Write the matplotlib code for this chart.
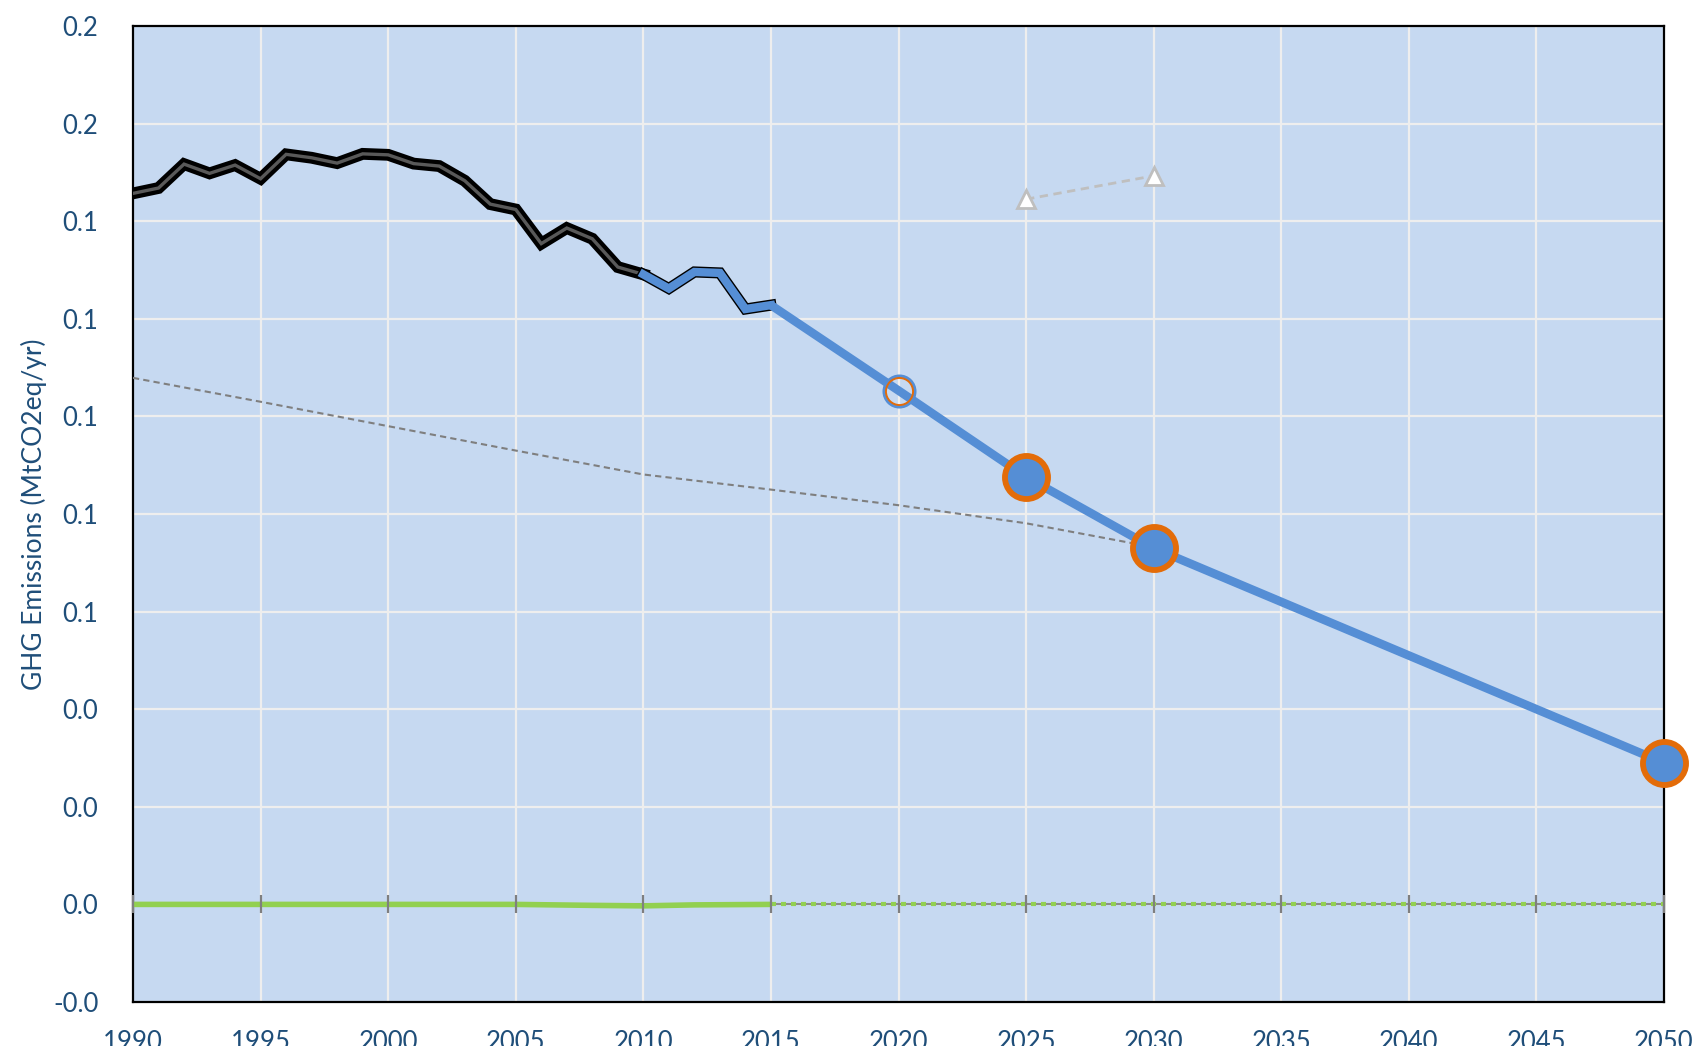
import numpy as np
import matplotlib
matplotlib.use("Agg")
import matplotlib.pyplot as plt
import matplotlib.patheffects as pe
from matplotlib.ticker import FuncFormatter

# ---- data ----
hist_years = list(range(1990, 2011))
hist_vals = [0.1457, 0.1468, 0.1517, 0.1498, 0.1515, 0.1487, 0.1537, 0.1530, 0.1519,
             0.1538, 0.1536, 0.1518, 0.1513, 0.1483, 0.1435, 0.1424, 0.1354, 0.1386,
             0.1364, 0.1306, 0.1291]
recent_years = [2010, 2011, 2012, 2013, 2014, 2015]
recent_vals = [0.1291, 0.1262, 0.1296, 0.1294, 0.1220, 0.1228]
path_years = [2015, 2020, 2025, 2030, 2050]
path_vals = [0.1228, 0.1053, 0.0876, 0.0730, 0.0290]
target_years = [2025, 2030, 2050]
target_vals = [0.0876, 0.0730, 0.0290]
open_year = [2020]
open_val = [0.1053]
ref_years = [1990, 1995, 2000, 2005, 2010, 2015, 2020, 2025, 2030]
ref_vals = [0.1079, 0.1030, 0.0980, 0.0930, 0.0881, 0.0850, 0.0818, 0.0781, 0.0732]
tri_years = [2025, 2030]
tri_vals = [0.1445, 0.1493]
sink_years = [1990, 1995, 2000, 2005, 2008, 2010, 2012, 2015]
sink_vals = [0.0, 0.0, 0.0, 0.0, -0.0002, -0.0003, -0.0001, 0.0]
sink_proj_years = [2015, 2050]
sink_proj_vals = [0.0, 0.0]
x_ticks = list(range(1990, 2051, 5))
y_ticks = [-0.02, 0.0, 0.02, 0.04, 0.06, 0.08, 0.10, 0.12, 0.14, 0.16, 0.18]
y_label = "GHG Emissions (MtCO2eq/yr)"

# ---- style ----
plt.rcParams['font.family'] = ['Lato', 'DejaVu Sans']
txt = '#1F4E79'
bg = '#C6D9F1'
blue = '#558ED5'
orange = '#E36C09'

fig = plt.figure(figsize=(16.95, 10.46), dpi=100)
ax = fig.add_axes([133/1695, 1 - 1002/1046, 1531/1695, 976/1046])
ax.set_facecolor(bg)
ax.set_xlim(1990, 2050)
ax.set_ylim(-0.02, 0.18)
ax.set_xticks(x_ticks)
ax.set_yticks(y_ticks)
ax.yaxis.set_major_formatter(FuncFormatter(lambda v, p: f"{v:.1f}"))
ax.tick_params(axis='both', length=0, labelsize=18.5, labelcolor=txt)
ax.tick_params(axis='x', pad=20)
ax.tick_params(axis='y', pad=25)
ax.grid(True, color='#EEEEEE', lw=1.6)
ax.set_axisbelow(True)
for s in ax.spines.values():
    s.set_color('black')
    s.set_linewidth(1.6)

ax.set_ylabel(y_label, fontsize=19, color=txt)
ax.yaxis.set_label_coords(-0.056, 0.5)

# zero axis line
ax.axhline(0, color='#8C8C8C', lw=1.5, zorder=2)
# crossing tick marks on the zero axis
sec = ax.secondary_xaxis(0.1)
sec.set_xticks(x_ticks)
sec.tick_params(axis='x', direction='inout', length=13, width=1.6, color='#7F7F7F',
                labelbottom=False)
for k in ['top', 'bottom', 'left', 'right']:
    sec.spines[k].set_visible(False)
sec.set_zorder(10)

# reference dashed line
ax.plot(ref_years, ref_vals, color='#7F7F7F', lw=1.5, dashes=(3, 2), zorder=3)

# sink line
ax.plot(sink_years, sink_vals, color='#92D050', lw=4, zorder=4, solid_capstyle='butt')
ax.plot(sink_proj_years, sink_proj_vals, color='#92D050', lw=3, dashes=(1.2, 1.2), zorder=4)

# historical black line
ax.plot(hist_years, hist_vals, color='#595959', lw=2.4, zorder=5,
        path_effects=[pe.Stroke(linewidth=8.5, foreground='black'), pe.Normal()],
        solid_joinstyle='miter')
# 2010-2015 blue with black outline
ax.plot(recent_years, recent_vals, color=blue, lw=6, zorder=6,
        path_effects=[pe.Stroke(linewidth=8, foreground='black'), pe.Normal()],
        solid_joinstyle='miter')
# projection path
ax.plot(path_years, path_vals, color=blue, lw=6.2, zorder=6, solid_capstyle='butt')

# open circle 2020
ax.plot(open_year, open_val, 'o', ms=22, mfc='none', mec=blue, mew=2.5, zorder=7)
ax.plot(open_year, open_val, 'o', ms=19.5, mfc='none', mec=orange, mew=1.4, zorder=8)

# target markers
ax.plot(target_years, target_vals, 'o', ms=31, mfc=blue, mec=orange, mew=4.2,
        zorder=9, clip_on=False)

# triangles
ax.plot(tri_years, tri_vals, color='#BFBFBF', lw=2, dashes=(3, 2), zorder=5)
ax.plot(tri_years, tri_vals, '^', ms=13, mfc='white', mec='#BFBFBF', mew=2, zorder=6)

fig.savefig('out.png', dpi=100)
